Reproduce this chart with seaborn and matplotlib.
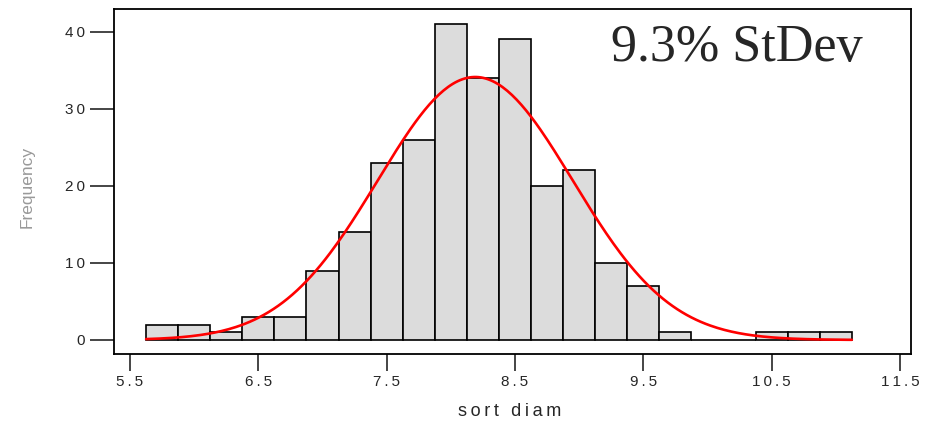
import numpy as np
import pandas as pd
import matplotlib
matplotlib.use("Agg")
import matplotlib.pyplot as plt
import seaborn as sns

# histogram: 22 bins of width 0.25 starting at 5.625
bin_start = 5.625
bin_width = 0.25
counts = [2, 2, 1, 3, 3, 9, 14, 23, 26, 41, 34, 39, 20, 22, 10, 7, 1, 0, 0, 1, 1, 1]

# fitted normal curve (peak position / height)
fit_mean = 8.19
fit_sd = 0.76

x_ticks = [5.5, 6.5, 7.5, 8.5, 9.5, 10.5, 11.5]
y_ticks = [0, 10, 20, 30, 40]

edges = bin_start + bin_width * np.arange(len(counts) + 1)
centers = (edges[:-1] + edges[1:]) / 2
df = pd.DataFrame({"sort diam": centers, "n": counts})

sns.set_style("white")
plt.rcParams["font.family"] = ["Liberation Sans", "DejaVu Sans"]


def spaced(s):
    # the original uses wide letter spacing
    return "\u2009".join(s)


fig = plt.figure(figsize=(9.26, 4.24), dpi=100)
ax = fig.add_axes([0.1231, 0.1644, 0.8607, 0.8136])

sns.histplot(data=df, x="sort diam", weights="n", binwidth=bin_width,
             binrange=(float(edges[0]), float(edges[-1])), ax=ax,
             color="#dcdcdc", edgecolor="black", linewidth=1.2, alpha=1)

# normal curve scaled to counts
xs = np.linspace(edges[0], edges[-1], 300)
ys = sum(counts) * bin_width * np.exp(-0.5 * ((xs - fit_mean) / fit_sd) ** 2) / (fit_sd * np.sqrt(2 * np.pi))
sns.lineplot(x=xs, y=ys, ax=ax, color="#ff0000", linewidth=1.9)

ax.set_xlim(5.375, 11.586)
ax.set_ylim(-1.86, 42.9)
ax.set_xticks(x_ticks)
ax.set_xticklabels([spaced(str(v)) for v in x_ticks])
ax.set_yticks(y_ticks)
ax.set_yticklabels([spaced(str(v)) for v in y_ticks])
ax.tick_params(axis="x", bottom=True, length=12, width=1.2, labelsize=11, pad=3)
ax.tick_params(axis="y", left=True, length=17, width=1.2, labelsize=11, pad=4)
for s in ax.spines.values():
    s.set_linewidth(1.3)
    s.set_color("black")

ax.set_xlabel(spaced("sort diam"), fontsize=13)
ax.xaxis.set_label_coords(0.497, -0.142)
ax.set_ylabel("Frequency", fontsize=12.5, color="#999999")
ax.yaxis.set_label_coords(-0.1, 0.485)

ax.text(0.782, 0.888, "9.3% StDev", transform=ax.transAxes, ha="center", va="center",
        fontsize=37.5, family=["Liberation Serif", "DejaVu Serif"])

fig.savefig("out.png", dpi=100)
